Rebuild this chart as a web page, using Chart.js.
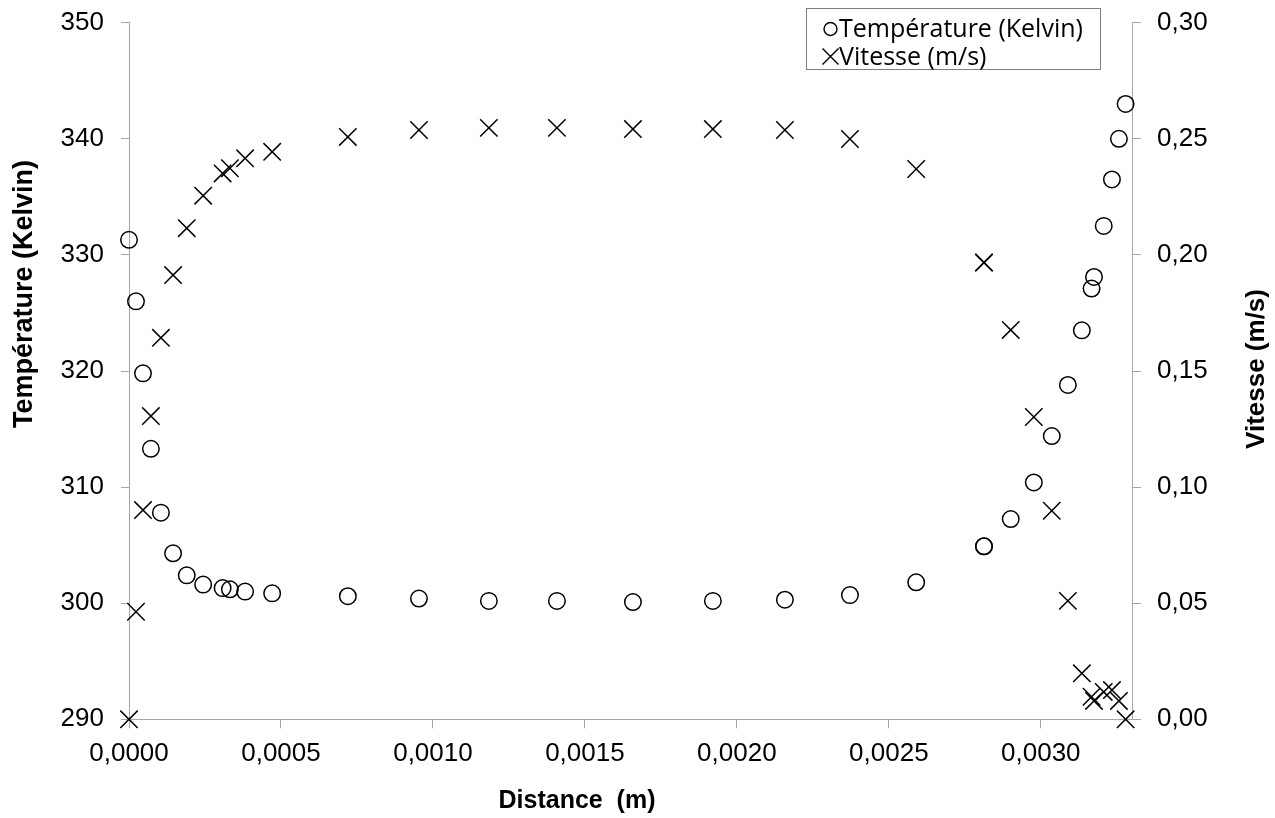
<!DOCTYPE html>
<html lang="fr">
<head>
<meta charset="utf-8">
<title>Température et vitesse en fonction de la distance</title>
<script src="https://cdn.jsdelivr.net/npm/chart.js@4.4.1/dist/chart.umd.min.js"></script>
<style>
  html, body { margin: 0; padding: 0; background: #ffffff; }
  #wrap { width: 1275px; height: 818px; position: relative; }
</style>
</head>
<body>
<div id="wrap"><canvas id="chart"></canvas></div>
<script>
// Mesures le long du canal (m)
const distance = [
  0.0000, 0.000023, 0.000046, 0.000072, 0.000105, 0.000145, 0.000190, 0.000244,
  0.000308, 0.000332, 0.000382, 0.000471, 0.000720, 0.000954, 0.001184, 0.001408,
  0.001658, 0.001921, 0.002158, 0.002372, 0.002590, 0.002813, 0.002813, 0.002901,
  0.002977, 0.003036, 0.003089, 0.003135, 0.003167, 0.003175, 0.003207, 0.003234,
  0.003257, 0.003279
];

// Température (K)
const temperature = [
  331.3, 326.0, 319.8, 313.3, 307.8, 304.3, 302.4, 301.6,
  301.3, 301.2, 301.0, 300.85, 300.6, 300.4, 300.2, 300.2,
  300.1, 300.2, 300.3, 300.7, 301.8, 304.9, 304.9, 307.25,
  310.4, 314.4, 318.8, 323.5, 327.1, 328.1, 332.5, 336.5,
  340.0, 343.0
];

// Vitesse (m/s)
const vitesse = [
  0.0000, 0.0463, 0.0901, 0.1306, 0.1643, 0.1913, 0.2115, 0.2255,
  0.2351, 0.2373, 0.2416, 0.2444, 0.2508, 0.2538, 0.2547, 0.2547,
  0.2542, 0.2542, 0.2538, 0.2499, 0.2370, 0.1967, 0.1967, 0.1677,
  0.1302, 0.0898, 0.0510, 0.0198, 0.0097, 0.0079, 0.0118, 0.0126,
  0.0079, 0.0000
];

// Graduations des axes
const distanceTicks = [0, 0.0005, 0.0010, 0.0015, 0.0020, 0.0025, 0.0030];
const temperatureTicks = [290, 300, 310, 320, 330, 340, 350];
const vitesseTicks = [0, 0.05, 0.10, 0.15, 0.20, 0.25, 0.30];

const seriesLabels = ['Température (Kelvin)', 'Vitesse (m/s)'];
const axisTitles = { x: 'Distance  (m)', left: 'Température (Kelvin)', right: 'Vitesse (m/s)' };

const AXIS_GREY = '#a6a6a6';
const TICK_FONT = { family: '"Liberation Sans", Arial, sans-serif', size: 26 };
const TITLE_FONT_LEFT = 'bold 27px "Liberation Sans", Arial, sans-serif';
const TITLE_FONT_RIGHT = 'bold 26px "Liberation Sans", Arial, sans-serif';
const TITLE_FONT_X = 'bold 25px "Liberation Sans", Arial, sans-serif';
const LEGEND_FONT = '25px "Open Sans", "Noto Sans", sans-serif';

const comma = (v, digits) => v.toFixed(digits).replace('.', ',');
const fixedTicks = values => scale => { scale.ticks = values.map(v => ({ value: v })); };

// Titres d'axes et légende encadrée
const framePlugin = {
  id: 'frameText',
  afterDraw(chart) {
    const ctx = chart.ctx;
    const area = chart.chartArea;
    ctx.save();
    ctx.fillStyle = '#000';

    // Titre de l'axe horizontal
    ctx.font = TITLE_FONT_X;
    ctx.textAlign = 'center';
    ctx.textBaseline = 'alphabetic';
    ctx.fillText(axisTitles.x, 577, 808);

    // Titre de l'axe de gauche
    ctx.save();
    ctx.translate(32, 294);
    ctx.rotate(-Math.PI / 2);
    ctx.font = TITLE_FONT_LEFT;
    ctx.fillText(axisTitles.left, 0, 0);
    ctx.restore();

    // Titre de l'axe de droite
    ctx.save();
    ctx.translate(1264, (area.top + area.bottom) / 2 - 2);
    ctx.rotate(-Math.PI / 2);
    ctx.font = TITLE_FONT_RIGHT;
    ctx.fillText(axisTitles.right, 0, 0);
    ctx.restore();

    // Légende
    ctx.strokeStyle = '#7f7f7f';
    ctx.lineWidth = 1;
    ctx.strokeRect(806.5, 8.5, 294, 61);
    ctx.font = LEGEND_FONT;
    ctx.textAlign = 'left';
    const rows = [
      { style: 'circle', radius: 6.5, y: 29, base: 36.5 },
      { style: 'crossRot', radius: 11.3, y: 56.5, base: 65 }
    ];
    chart.data.datasets.forEach((ds, i) => {
      const r = rows[i];
      ctx.strokeStyle = '#000';
      ctx.fillStyle = 'rgba(0,0,0,0)';
      ctx.lineWidth = 1.4;
      Chart.helpers.drawPoint(ctx, { pointStyle: r.style, radius: r.radius, borderWidth: 1.4, rotation: 0 }, 830.5, r.y);
      ctx.fillStyle = '#000';
      ctx.fillText(ds.label, 839, r.base);
    });
    ctx.restore();
  }
};

// Marges des échelles : la zone de tracé est fixée par les largeurs d'axes
const noPadding = s => { s.paddingTop = 0; s.paddingBottom = 0; s.paddingLeft = 0; s.paddingRight = 0; };

const ctx = document.getElementById('chart').getContext('2d');
new Chart(ctx, {
  type: 'scatter',
  data: {
    datasets: [
      {
        label: seriesLabels[0],
        data: distance.map((d, i) => ({ x: d, y: temperature[i] })),
        yAxisID: 'yT',
        showLine: false,
        pointStyle: 'circle',
        pointRadius: 8.25,
        pointBorderWidth: 1.5,
        pointBorderColor: '#000',
        pointBackgroundColor: 'rgba(0,0,0,0)',
        clip: false
      },
      {
        label: seriesLabels[1],
        data: distance.map((d, i) => ({ x: d, y: vitesse[i] })),
        yAxisID: 'yV',
        showLine: false,
        pointStyle: 'crossRot',
        pointRadius: 12.3,
        pointBorderWidth: 1.5,
        pointBorderColor: '#000',
        pointBackgroundColor: 'rgba(0,0,0,0)',
        clip: false
      }
    ]
  },
  options: {
    responsive: true,
    maintainAspectRatio: false,
    animation: false,
    events: [],
    layout: { padding: { top: 22.7, left: 0, right: 0, bottom: 0 } },
    plugins: {
      legend: { display: false },
      tooltip: { enabled: false },
      title: { display: false }
    },
    scales: {
      x: {
        type: 'linear',
        position: 'bottom',
        min: 0,
        max: 0.0033,
        afterBuildTicks: fixedTicks(distanceTicks),
        afterFit: s => { s.height = 98.7; noPadding(s); },
        border: { color: AXIS_GREY, width: 1 },
        grid: { drawOnChartArea: false, drawTicks: true, tickLength: 9, color: AXIS_GREY },
        ticks: {
          font: TICK_FONT, color: '#000', padding: 10, maxRotation: 0, autoSkip: false,
          callback: v => comma(v, 4)
        },
        title: { display: false }
      },
      yT: {
        type: 'linear',
        position: 'left',
        min: 290,
        max: 350,
        afterBuildTicks: fixedTicks(temperatureTicks),
        afterFit: s => { s.width = 129; noPadding(s); },
        border: { color: AXIS_GREY, width: 1 },
        grid: { drawOnChartArea: false, drawTicks: true, tickLength: 8, color: AXIS_GREY },
        ticks: { font: TICK_FONT, color: '#000', padding: 17, autoSkip: false, callback: v => String(v) },
        title: { display: false }
      },
      yV: {
        type: 'linear',
        position: 'right',
        min: 0,
        max: 0.30,
        afterBuildTicks: fixedTicks(vitesseTicks),
        afterFit: s => { s.width = 143; noPadding(s); },
        border: { color: AXIS_GREY, width: 1 },
        grid: { drawOnChartArea: false, drawTicks: true, tickLength: 9, color: AXIS_GREY },
        ticks: { font: TICK_FONT, color: '#000', padding: 16, autoSkip: false, callback: v => comma(v, 2) },
        title: { display: false }
      }
    }
  },
  plugins: [framePlugin]
});
</script>
</body>
</html>
